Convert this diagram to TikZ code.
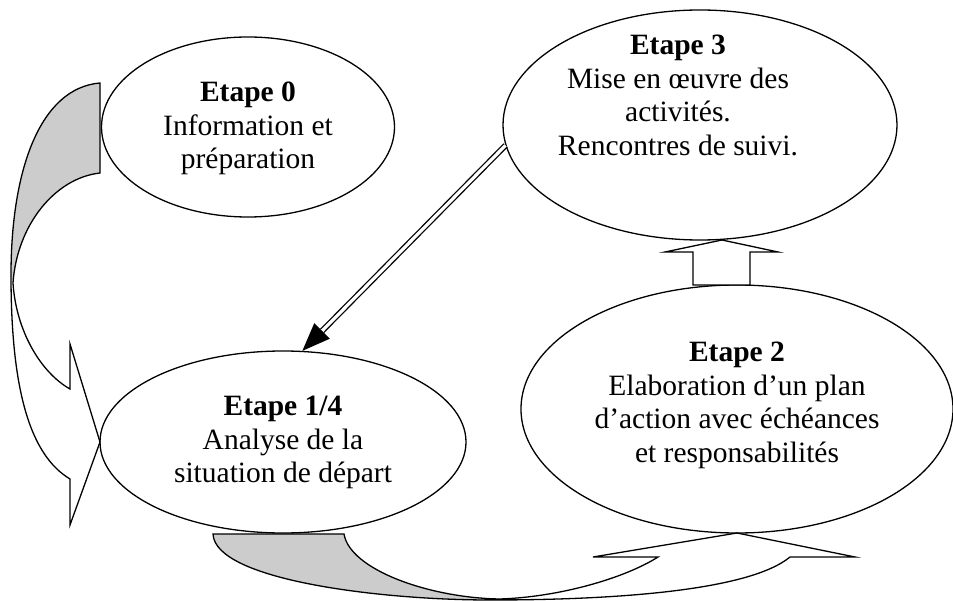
\documentclass[tikz,border=0pt]{standalone}
\usepackage{fontspec}
\setmainfont{Liberation Serif}
\usetikzlibrary{shapes.geometric,calc}
\begin{document}
\begin{tikzpicture}[x=1pt,y=-1pt,
  etape/.style={draw,ellipse,line width=1.3pt,inner sep=0pt},
  txt/.style={align=center,anchor=north,inner sep=0pt,font=\fontsize{29.5}{33.5}\selectfont},
  band/.style={draw,line width=1.3pt,line join=miter},
  backside/.style={fill=black!20}]
\useasboundingbox (0,0) rectangle (953,601);
% ellipses
\node[etape,minimum width=293pt,minimum height=180pt] (e0) at (248,127) {};
\node[etape,minimum width=394pt,minimum height=230pt] (e3) at (700,125) {};
\node[etape,minimum width=432pt,minimum height=248pt] (e2) at (737,409) {};
\node[etape,minimum width=366pt,minimum height=182pt] (e1) at (283,442) {};
% texts
\node[txt] (t0) at (248,82) {\textbf{Etape 0}\\Information et\\préparation};
\node[txt] (t3) at (678,35) {\textbf{Etape 3}\\Mise en œuvre des\\activités.\\Rencontres de suivi.};
\node[txt] (t2) at (737,342) {\textbf{Etape 2}\\Elaboration d’un plan\\d’action avec échéances\\et responsabilités};
\node[txt] (t1) at (283,396) {\textbf{Etape 1/4}\\Analyse de la\\situation de départ};
% left curved arrow (Etape 0 -> Etape 1/4)
\fill[backside] (100,83) .. controls (40,88) and (11,170) .. (11,275) -- (13,283)
  .. controls (17,225) and (55,178) .. (100,173) -- cycle;
\draw[band] (100,83) .. controls (40,88) and (11,170) .. (11,275)
  .. controls (11,390) and (30,455) .. (70,479) -- (70,525) -- (100,442) -- (70,344) -- (70,389)
  .. controls (40,372) and (16,330) .. (13,283)
  .. controls (17,225) and (55,178) .. (100,173) -- cycle;
% bottom curved arrow (Etape 1/4 -> Etape 2)
\fill[backside] (213,534) .. controls (215,580) and (380,600) .. (490,600) -- (500,599)
  .. controls (430,598) and (350,570) .. (344,534) -- cycle;
\draw[band] (213,534) .. controls (215,580) and (380,600) .. (490,600)
  .. controls (620,600) and (750,590) .. (790,557) -- (855,557) -- (737,533) -- (593,557) -- (658,557)
  .. controls (625,578) and (560,597) .. (500,599)
  .. controls (430,598) and (350,570) .. (344,534) -- cycle;
% hollow up arrow (Etape 2 -> Etape 3)
\draw[band,fill=white] (722,240) -- (778,252) -- (750,252) -- (750,285) -- (693,285) -- (693,252) -- (665,252) -- cycle;
% double-line arrow (Etape 3 -> Etape 1/4)
\coordinate (dstart) at (e3.186.5);
\coordinate (dtip) at (e1.78);
\coordinate (dbase) at ($(dtip)!28pt!(dstart)$);
\draw[line width=1.3pt,double,double distance=3.2pt] (dstart) -- (dbase);
\fill ($(dbase)!11pt!90:(dtip)$) -- (dtip) -- ($(dbase)!11pt!-90:(dtip)$) -- cycle;
\end{tikzpicture}
\end{document}
